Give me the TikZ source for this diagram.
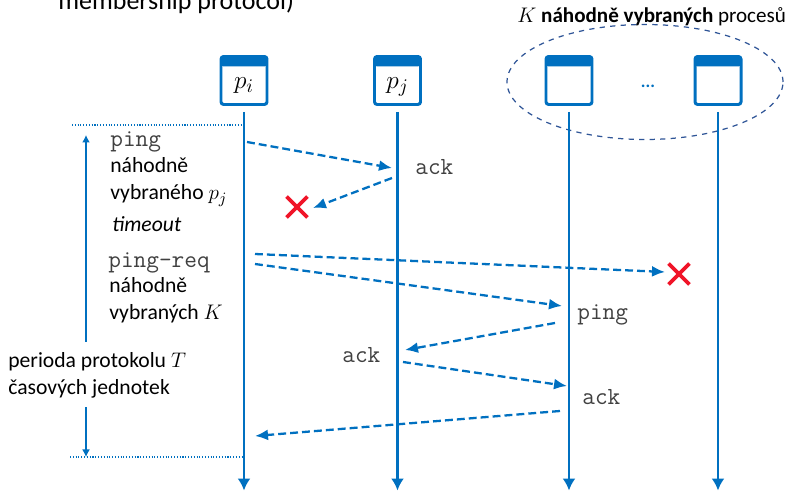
\documentclass[tikz,border=0pt]{standalone}
\usepackage{fontspec}
\setmainfont{Carlito}
\usetikzlibrary{arrows.meta,shapes.misc,positioning}

\definecolor{procblue}{RGB}{0,112,192}
\definecolor{ringblue}{RGB}{47,85,151}
\definecolor{msggray}{RGB}{64,64,64}
\definecolor{lostred}{RGB}{240,20,40}

\tikzset{
  proc/.style={draw=procblue, line width=1.7pt, rounded corners=1.5pt, fill=white,
    minimum width=0.92cm, minimum height=0.96cm, inner sep=0pt,
    text height=0.4cm, text depth=0.06cm, font=\fontsize{15}{17}\selectfont,
    path picture={\fill[procblue] (path picture bounding box.north west)
      rectangle ([yshift=-0.2cm]path picture bounding box.north east);}},
  lifeline/.style={procblue, line width=1.2pt, -{Latex[length=2.4mm,width=2.6mm]}},
  msg/.style={procblue, line width=1.3pt, dash pattern=on 4.5pt off 2.3pt,
    -{Latex[length=2.6mm,width=2.2mm]}},
  period/.style={procblue, line width=0.8pt, -{Latex[length=1.5mm,width=1.6mm]}},
  tick/.style={procblue, line width=0.6pt, densely dotted},
  lost/.style={cross out, draw=lostred, line width=2.2pt, minimum size=0.34cm, inner sep=0pt},
  txt/.style={anchor=base west, inner sep=0pt, font=\fontsize{12.3}{14}\selectfont},
  cmd/.style={anchor=base west, inner sep=0pt, text=msggray, font=\ttfamily\fontsize{14}{16}\selectfont},
}

\begin{document}
\begin{tikzpicture}
    \useasboundingbox (0,0) rectangle (15.9,9.84);

    % 绘制标题残余
    \node[anchor=base west, inner sep=0pt, font=\fontsize{14.8}{18}\selectfont] (title) at (1.16,9.64) {membership protocol)};

    % 绘制进程框
    \node[proc] (pi) at (4.88,8.23) {$p_i$};
    \node[proc] (pj) at (7.95,8.23) {$p_j$};
    \node[proc] (pa) at (11.38,8.23) {};
    \node[proc] (pb) at (14.36,8.23) {};
    \node[text=procblue, font=\bfseries] (dots) at (12.96,8.12) {...};

    % 绘制K个进程的椭圆
    \node[txt, font=\fontsize{12}{14}\selectfont] (klabel) at (10.34,9.38) {$K$ \textbf{náhodně vybraných} procesů};
    \coordinate (grp) at (12.90,8.20);
    \draw[ringblue, dashed, line width=0.7pt] (grp) ellipse (2.76 and 1.15);

    % 绘制时间线
    \coordinate (bottom) at (0,0.03);
    \foreach \p in {pi,pj,pa,pb}
        \draw[lifeline] ([yshift=-1.2mm]\p.south) -- (\p.south |- bottom);

    % 绘制协议周期
    \coordinate (dtop) at (1.44,7.34);
    \coordinate (dbot) at (1.40,0.70);
    \draw[tick] (dtop) -- (dtop -| pi);
    \draw[tick] (dbot) -- (dbot -| pi);
    \coordinate (ptop) at (1.72,7.14);
    \coordinate (pbot) at (1.72,0.70);
    \node[txt] (per1) at (0.16,2.48) {perioda protokolu $T$};
    \node[txt] (per2) at (0.16,1.94) {časových jednotek};
    \draw[period] ([yshift=2.2mm]per1.north -| ptop) -- (ptop);
    \draw[period] ([yshift=-1.6mm]per2.south -| pbot) -- (pbot);

    % 绘制左侧说明
    \node[cmd] (ping1) at (2.20,6.90) {ping};
    \node[txt] (nah1) at (2.20,6.38) {náhodně};
    \node[txt] (vyb1) at (2.20,5.84) {vybraného $p_j$};
    \node[txt] (tout) at (2.24,5.20) {\itshape timeout};
    \node[cmd] (preq) at (2.16,4.48) {ping-req};
    \node[txt] (nah2) at (2.18,3.98) {náhodně};
    \node[txt] (vyb2) at (2.18,3.44) {vybraných $K$};

    % 绘制消息
    \coordinate (m1a) at (4.94,7.00);  \coordinate (m1b) at (7.84,6.48);
    \coordinate (m2a) at (7.84,6.28);  \coordinate (m2b) at (6.26,5.68);
    \coordinate (m3a) at (5.10,4.76);  \coordinate (m3b) at (13.30,4.40);
    \coordinate (m4a) at (5.10,4.56);  \coordinate (m4b) at (11.24,3.72);
    \coordinate (m5a) at (11.10,3.38); \coordinate (m5b) at (8.10,2.84);
    \coordinate (m6a) at (8.06,2.60);  \coordinate (m6b) at (11.34,2.12);
    \coordinate (m7a) at (11.20,1.62); \coordinate (m7b) at (5.10,1.12);
    \foreach \s/\e in {m1a/m1b,m2a/m2b,m3a/m3b,m4a/m4b,m5a/m5b,m6a/m6b,m7a/m7b}
        \draw[msg] (\s) -- (\e);

    % 绘制消息标签
    \node[cmd] (ack1) at (8.30,6.34) {ack};
    \node[cmd] (ping2) at (11.54,3.44) {ping};
    \node[cmd] (ack2) at (6.84,2.58) {ack};
    \node[cmd] (ack3) at (11.64,1.74) {ack};

    % 绘制丢失的消息
    \node[lost] (x1) at (5.94,5.70) {};
    \node[lost] (x2) at (13.58,4.36) {};

\end{tikzpicture}
\end{document}
